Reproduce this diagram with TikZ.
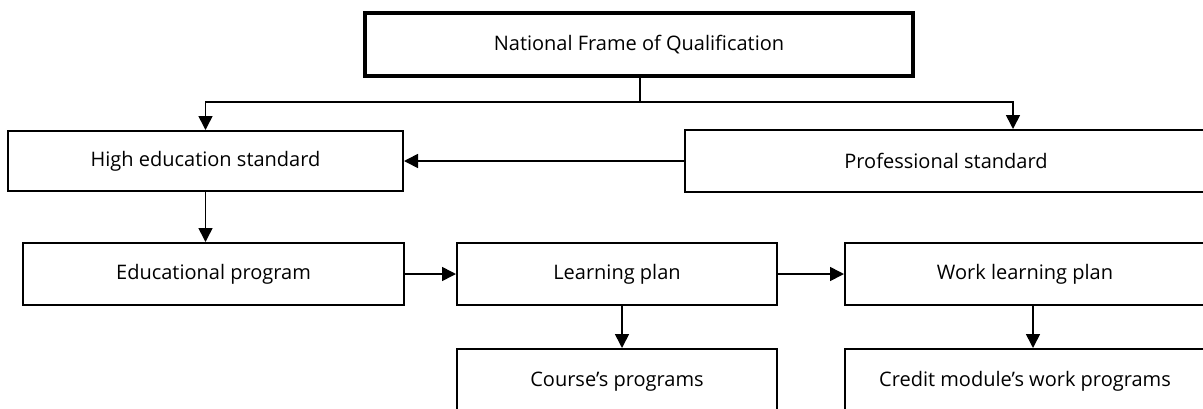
\documentclass[tikz,border=0pt]{standalone}
\usepackage{fontspec}
\setmainfont{Open Sans}
\usetikzlibrary{arrows.meta}
\begin{document}
\begin{tikzpicture}[x=1pt,y=1pt,
  box/.style={draw=black,line width=2pt,rectangle,inner sep=0pt,minimum height=62pt,
    font=\fontsize{20}{24}\selectfont,text=black,fill=white},
  topbox/.style={box,line width=3.2pt,minimum height=63pt},
  arr/.style={line width=1.6pt,-{Triangle[length=14pt,width=14pt]}},
  conn/.style={line width=1.6pt}]
\useasboundingbox (0,0) rectangle (1203,-408);
\clip (0,0) rectangle (1203,-408);
\node[topbox,minimum width=548pt] (nfq) at (639,-44.5) {National Frame of Qualification};
\node[box,minimum width=395pt,minimum height=60pt] (high) at (205.5,-161) {High education standard};
\node[box,minimum width=522pt] (prof) at (946,-161) {Professional standard};
\node[box,minimum width=381pt] (ed) at (213.5,-274) {Educational program};
\node[box,minimum width=320pt] (lp) at (617,-274) {Learning plan};
\node[box,minimum width=360pt] (wlp) at (1025,-274) {Work learning plan};
\node[box,minimum width=320pt,minimum height=66pt] (course) at (617,-382) {\raisebox{6pt}{Course’s programs}};
\node[box,minimum width=360pt,minimum height=66pt] (credit) at (1025,-382) {\raisebox{6pt}{Credit module’s work programs}};
\coordinate (split) at (640,-102);
\coordinate (pj) at (1013,-102);
\draw[conn] (nfq.south -| split) -- (split);
\draw[arr] (split) -| (high.north);
\draw[arr] (split) -- (pj) -- (pj |- prof.north);
\draw[arr] (prof.west) -- (high.east);
\draw[arr] (high.south) -- (high.south |- ed.north);
\draw[arr] (ed.east) -- (lp.west);
\draw[arr] (lp.east) -- (wlp.west);
\draw[arr] ([xshift=5pt]lp.south) -- ([xshift=5pt]lp.south |- course.north);
\draw[arr] ([xshift=8pt]wlp.south) -- ([xshift=8pt]wlp.south |- credit.north);
\end{tikzpicture}
\end{document}
